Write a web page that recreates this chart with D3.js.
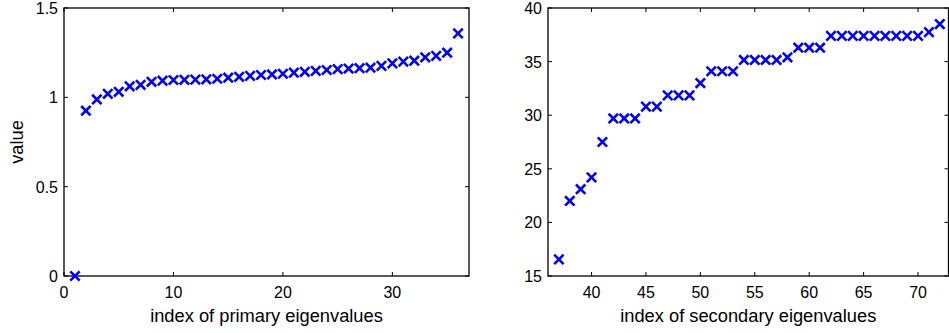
<!DOCTYPE html>
<html>
<head>
<meta charset="utf-8">
<script src="https://cdn.jsdelivr.net/npm/d3@7"></script>
<style>
  body { margin: 0; background: #fff; }
  text { font-family: "Liberation Sans", Arial, sans-serif; fill: #000; }
</style>
</head>
<body>
<div id="chart"></div>
<script>
// primary eigenvalues (index 1..36)
var primaryIdx = d3.range(1, 37);
var primaryVals = [0, 0.925, 0.988, 1.02, 1.031, 1.062, 1.07, 1.087, 1.093, 1.097,
  1.098, 1.099, 1.101, 1.104, 1.11, 1.115, 1.12, 1.125, 1.128, 1.132,
  1.138, 1.143, 1.148, 1.153, 1.158, 1.161, 1.163, 1.166, 1.176, 1.19,
  1.2, 1.205, 1.224, 1.232, 1.25, 1.358];

// secondary eigenvalues (index 37..72)
var secondaryIdx = d3.range(37, 73);
var secondaryVals = [16.55, 22.0, 23.1, 24.2, 27.5, 29.7, 29.7, 29.7, 30.8, 30.8,
  31.85, 31.85, 31.85, 33.0, 34.1, 34.1, 34.1, 35.15, 35.15, 35.15,
  35.15, 35.4, 36.3, 36.3, 36.3, 37.4, 37.4, 37.4, 37.4, 37.4,
  37.4, 37.4, 37.4, 37.4, 37.75, 38.5];

var primaryXTicks = [0, 10, 20, 30];
var primaryYTicks = [0, 0.5, 1, 1.5];
var secondaryXTicks = [40, 45, 50, 55, 60, 65, 70];
var secondaryYTicks = [15, 20, 25, 30, 35, 40];

var width = 949, height = 333;
var tickFont = 16, labelFont = 18.3;
var svg = d3.select("#chart").append("svg")
  .attr("width", width).attr("height", height);

function panel(opt) {
  var x = d3.scaleLinear().domain(opt.xDomain).range([opt.left, opt.right]);
  var y = d3.scaleLinear().domain(opt.yDomain).range([opt.bottom, opt.top]);
  var g = svg.append("g");
  var tl = 4;

  // box
  g.append("rect")
    .attr("x", opt.left).attr("y", opt.top)
    .attr("width", opt.right - opt.left).attr("height", opt.bottom - opt.top)
    .attr("fill", "none").attr("stroke", "#000").attr("stroke-width", 1.3);

  // x ticks (bottom and top, inward)
  opt.xTicks.forEach(function (t) {
    var px = x(t);
    g.append("line").attr("x1", px).attr("x2", px)
      .attr("y1", opt.bottom).attr("y2", opt.bottom - tl).attr("stroke", "#000");
    g.append("line").attr("x1", px).attr("x2", px)
      .attr("y1", opt.top).attr("y2", opt.top + tl).attr("stroke", "#000");
    g.append("text").attr("x", px).attr("y", opt.bottom + 22)
      .attr("text-anchor", "middle").attr("font-size", tickFont).text(t);
  });

  // y ticks (left and right, inward)
  opt.yTicks.forEach(function (t) {
    var py = y(t);
    g.append("line").attr("x1", opt.left).attr("x2", opt.left + tl)
      .attr("y1", py).attr("y2", py).attr("stroke", "#000");
    g.append("line").attr("x1", opt.right).attr("x2", opt.right - tl)
      .attr("y1", py).attr("y2", py).attr("stroke", "#000");
    g.append("text").attr("x", opt.left - 6).attr("y", py + 6)
      .attr("text-anchor", "end").attr("font-size", tickFont).text(t);
  });

  // x label
  g.append("text").attr("x", (opt.left + opt.right) / 2).attr("y", opt.bottom + 46)
    .attr("text-anchor", "middle").attr("font-size", labelFont).text(opt.xLabel);

  if (opt.yLabel) {
    g.append("text")
      .attr("transform", "translate(23," + ((opt.top + opt.bottom) / 2) + ") rotate(-90)")
      .attr("text-anchor", "middle").attr("font-size", labelFont).text(opt.yLabel);
  }

  // x markers
  var s = 4.7;
  g.append("g").selectAll("path")
    .data(opt.xs.map(function (d, i) { return [d, opt.ys[i]]; }))
    .enter().append("path")
    .attr("d", function (d) {
      var cx = x(d[0]), cy = y(d[1]);
      return "M" + (cx - s) + "," + (cy - s) + "L" + (cx + s) + "," + (cy + s) +
        "M" + (cx - s) + "," + (cy + s) + "L" + (cx + s) + "," + (cy - s);
    })
    .attr("stroke", "#0000ff").attr("stroke-width", 2.6).attr("fill", "none");
}

panel({
  left: 64, right: 469, top: 8, bottom: 276,
  xDomain: [0, 37], yDomain: [0, 1.5],
  xTicks: primaryXTicks, yTicks: primaryYTicks,
  xs: primaryIdx, ys: primaryVals,
  xLabel: "index of primary eigenvalues", yLabel: "value"
});

panel({
  left: 548, right: 948.5, top: 8, bottom: 276,
  xDomain: [36, 72.8], yDomain: [15, 40],
  xTicks: secondaryXTicks, yTicks: secondaryYTicks,
  xs: secondaryIdx, ys: secondaryVals,
  xLabel: "index of secondary eigenvalues"
});
</script>
</body>
</html>
